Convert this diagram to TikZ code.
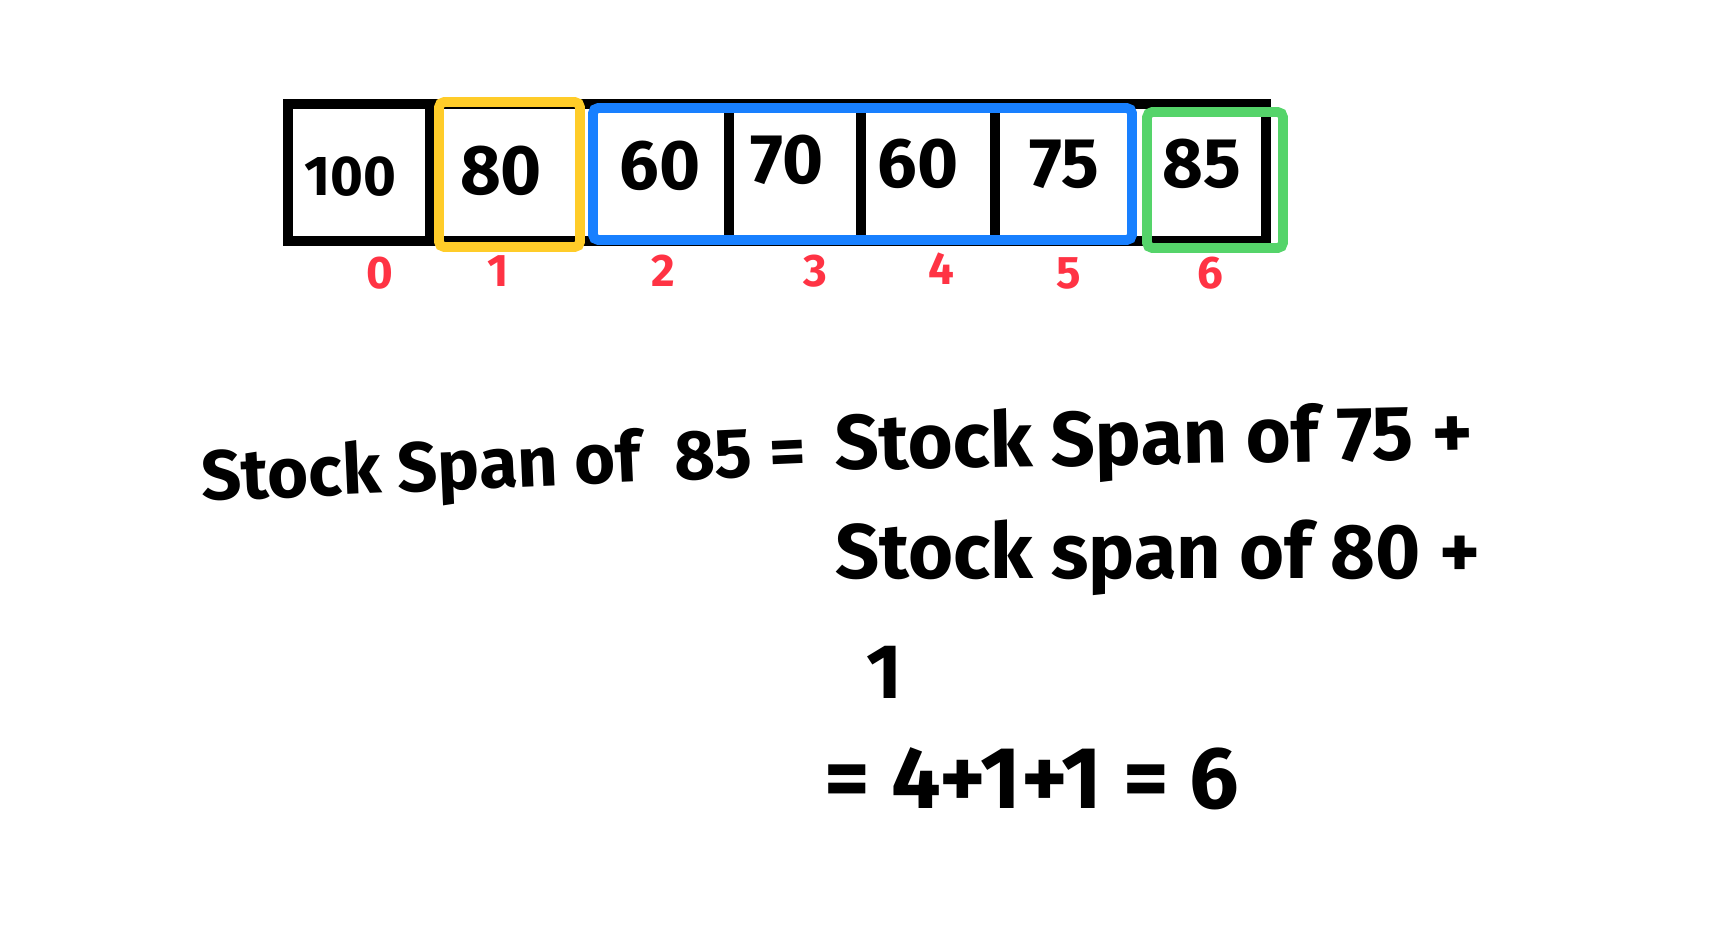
\documentclass[tikz,border=0pt]{standalone}
\usepackage{fontspec}
\setmainfont{Fira Sans}
\usetikzlibrary{positioning}
\definecolor{spanyellow}{RGB}{255,204,41}
\definecolor{spanblue}{RGB}{24,128,255}
\definecolor{spangreen}{RGB}{85,212,106}
\definecolor{spanred}{RGB}{255,51,68}

\begin{document}
\begin{tikzpicture}[x=0.1mm,y=-0.1mm,
  num/.style={font=\bfseries\fontsize{20}{24}\selectfont},
  idx/.style={text=spanred,font=\bfseries\fontsize{13}{15}\selectfont},
  note/.style={anchor=base west,inner sep=0pt,font=\bfseries\fontsize{22}{26}\selectfont},
  box/.style={line width=2.8pt},
  spanbox/.style={line width=2.8pt,rounded corners=1.5pt}]
\useasboundingbox (0,0) rectangle (1734,946);
% array
\draw[box] (288,104) rectangle (1266,241);
\draw[box] (430,104) -- (430,241);
\draw[box] (729,104) -- (729,241);
\draw[box] (861,104) -- (861,241);
\draw[box] (995,104) -- (995,241);
% highlighted spans
\draw[spanbox, spanyellow] (439,102) rectangle (580,247);
\draw[spanbox, spanblue] (593,108) rectangle (1132,240);
\draw[spanbox, spangreen] (1147,112) rectangle (1283,248);
% values
\node[num, font=\bfseries\fontsize{16}{20}\selectfont](v0) at (350,177){100};
\node[num](v1) at (501,171){80};
\node[num](v2) at (660,166){60};
\node[num](v3) at (787,160){70};
\node[num](v4) at (918,164){60};
\node[num](v5) at (1064,164){75};
\node[num](v6) at (1202,164){85};
% indices
\node[idx](i0) at (380,273){0};
\node[idx](i1) at (498,271){1};
\node[idx](i2) at (663,271){2};
\node[idx](i3) at (815,271){3};
\node[idx](i4) at (941,269){4};
\node[idx](i5) at (1069,273){5};
\node[idx](i6) at (1210,273){6};
% working
\node[note, rotate=2.5, font=\bfseries\fontsize{20}{24}\selectfont](lhs) at (202,501){Stock Span of\ \ 85 =};
\node[note, rotate=1](rhs) at (835,470){Stock Span of 75 +};
\node[note](second) at (835,578){Stock span of 80 +};
\node[note](one) at (866,698){1};
\node[note, font=\bfseries\fontsize{25}{30}\selectfont](total) at (824,808){= 4+1+1 = 6};
\end{tikzpicture}
\end{document}
